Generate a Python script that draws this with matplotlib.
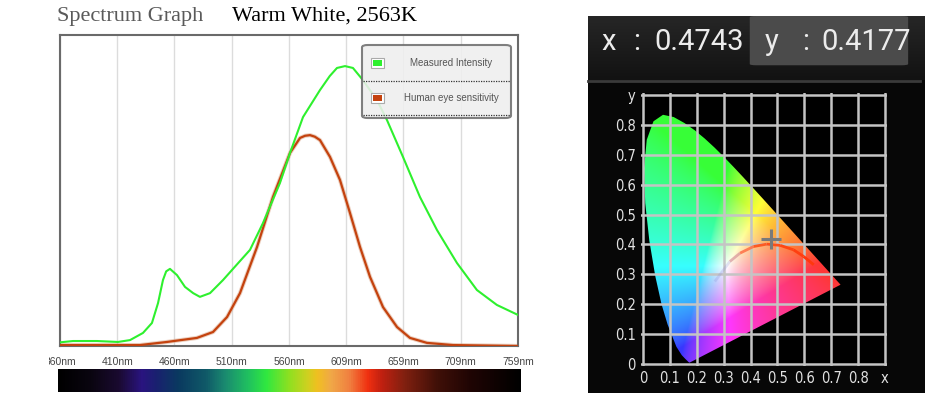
import numpy as np
import matplotlib
matplotlib.use("Agg")
import matplotlib.pyplot as plt
from matplotlib.patches import Rectangle, FancyBboxPatch, Polygon
from matplotlib.lines import Line2D
from matplotlib.collections import LineCollection
from matplotlib.colors import LinearSegmentedColormap
from matplotlib.transforms import Bbox

W, H = 951, 399

# spectrum graph data (wavelength nm, relative level)
green_wl = [360.6, 371.3, 392.2, 410.5, 421.0, 432.3, 440.1, 445.4, 449.7, 452.5, 455.8,
            461.9, 468.9, 476.0, 481.9, 490.7, 502.0, 510.7, 525.5, 536.8, 551.6, 560.4,
            571.7, 586.5, 595.0, 601.3, 608.3, 615.2, 623.9, 636.1, 644.8, 658.8, 673.6,
            688.4, 705.8, 723.2, 740.6, 758.9]
green_val = [0.012, 0.016, 0.016, 0.013, 0.019, 0.042, 0.074, 0.138, 0.212, 0.240, 0.248,
             0.228, 0.190, 0.170, 0.158, 0.170, 0.212, 0.248, 0.309, 0.395, 0.524, 0.621,
             0.736, 0.823, 0.868, 0.894, 0.900, 0.894, 0.855, 0.791, 0.727, 0.608, 0.479,
             0.373, 0.267, 0.180, 0.132, 0.100]

eye_wl = [360.0, 429.7, 453.2, 479.3, 493.3, 505.5, 516.8, 531.6, 545.5, 560.4, 569.1,
          573.5, 577.8, 582.0, 586.5, 595.2, 603.9, 612.6, 621.4, 630.1, 641.4, 653.6,
          664.9, 679.7, 702.4, 758.9]
eye_val = [0.003, 0.003, 0.013, 0.026, 0.045, 0.093, 0.170, 0.318, 0.479, 0.621, 0.669,
           0.676, 0.678, 0.673, 0.662, 0.608, 0.534, 0.428, 0.318, 0.222, 0.125, 0.061,
           0.026, 0.010, 0.003, 0.0]

wl_ticks = np.linspace(360, 759, 9)
legend_labels = ["Measured Intensity", "Human eye sensitivity"]
green_col = "#2ef02e"
eye_col = "#c4420e"

title_left = "Spectrum Graph"
title_right = "Warm White, 2563K"

bar_stops = [0.0, 0.07, 0.13, 0.18, 0.21, 0.26, 0.32, 0.36, 0.41, 0.45, 0.50, 0.54,
             0.56, 0.59, 0.63, 0.67, 0.70, 0.75, 0.82, 0.89, 1.0]
bar_colors = ["#000000", "#0a0510", "#1a0a30", "#2a1480", "#1a2070", "#0a3a60", "#105a68",
              "#1a8a70", "#20c060", "#30e840", "#90e020", "#d0d020", "#f0c020", "#f0a848",
              "#f08040", "#f03010", "#c02010", "#802010", "#401008", "#200504", "#000000"]

# chromaticity data
locus_x = [0.1741, 0.1738, 0.1733, 0.1726, 0.1714, 0.1689, 0.1644, 0.1566, 0.1440, 0.1241,
           0.0913, 0.0687, 0.0454, 0.0235, 0.0082, 0.0039, 0.0139, 0.0389, 0.0743, 0.1142,
           0.1547, 0.1929, 0.2296, 0.2658, 0.3016, 0.3373, 0.3731, 0.4087, 0.4441, 0.4788,
           0.5125, 0.5448, 0.5752, 0.6029, 0.6270, 0.6482, 0.6658, 0.6801, 0.6915, 0.7006,
           0.7079, 0.7140, 0.7190, 0.7260, 0.7300, 0.7347]
locus_y = [0.0050, 0.0049, 0.0048, 0.0048, 0.0051, 0.0069, 0.0109, 0.0177, 0.0297, 0.0578,
           0.1327, 0.2007, 0.2950, 0.4127, 0.5384, 0.6548, 0.7502, 0.8120, 0.8338, 0.8262,
           0.8059, 0.7816, 0.7543, 0.7243, 0.6923, 0.6589, 0.6245, 0.5896, 0.5547, 0.5202,
           0.4866, 0.4544, 0.4242, 0.3965, 0.3725, 0.3514, 0.3340, 0.3197, 0.3083, 0.2993,
           0.2920, 0.2859, 0.2809, 0.2740, 0.2700, 0.2653]
planck_x = [0.267, 0.323, 0.361, 0.411, 0.460, 0.510, 0.560, 0.597, 0.635]
planck_y = [0.276, 0.343, 0.371, 0.393, 0.401, 0.397, 0.382, 0.360, 0.332]
point_x, point_y = 0.4743, 0.4177
cie_ticks = np.round(np.arange(0, 0.91, 0.1), 1)


def fx(x):
    return x / W


def fy(y):
    return 1 - y / H


fig = plt.figure(figsize=(W / 100, H / 100), dpi=100)
fig.patch.set_facecolor("white")

# ---- titles
fig.text(fx(57), fy(21), title_left, family="Liberation Serif", fontsize=16,
         color="#5a5a5a", va="baseline")
fig.text(fx(232), fy(21), title_right, family="Liberation Serif", fontsize=16,
         color="black", va="baseline")

# ---- spectrum graph
ax = fig.add_axes([fx(60), 53 / H, 458 / W, 311 / H])
ax.plot(eye_wl, eye_val, color="#d9a080", lw=3.0, alpha=0.5, zorder=2)
ax.plot(eye_wl, eye_val, color=eye_col, lw=1.6, zorder=3)
ax.plot(green_wl, green_val, color=green_col, lw=1.5, zorder=4)
ax.set_xlim(360, 759)
ax.set_ylim(0, 1)
ax.set_yticks([])
ax.set_xticks(wl_ticks)
ax.set_xticklabels([f"{round(t)}nm" for t in wl_ticks], family="Liberation Sans",
                   fontsize=7.5, color="#444444")
ax.tick_params(axis="x", length=0, pad=8)
ax.grid(axis="x", color="#dcdcdc", lw=1)
for s in ax.spines.values():
    s.set_color("#6a6a6a")
    s.set_linewidth(1.5)
first = ax.xaxis.get_major_ticks()[0].label1
first.set_clip_box(Bbox([[49, 0], [W, H]]))
first.set_clip_on(True)

# legend box
leg_box = FancyBboxPatch((fx(362), fy(118)), fx(511) - fx(362), fy(45) - fy(118),
                         boxstyle="round,pad=0,rounding_size=0.006",
                         transform=fig.transFigure, facecolor="#efefef", alpha=0.88,
                         edgecolor="#6e6e6e", lw=1.5, zorder=10)
fig.add_artist(leg_box)
for yy in (81, 115):
    fig.add_artist(Line2D([fx(363), fx(510)], [fy(yy), fy(yy)], color="#333333",
                          lw=0.9, ls=(0, (1, 1)), transform=fig.transFigure, zorder=11))
for yy, col, lab in zip((63, 98), (green_col, eye_col), legend_labels):
    fig.add_artist(Rectangle((fx(371), fy(yy + 5)), 13 / W, 10 / H, facecolor="white",
                             edgecolor="#aaaaaa", lw=0.8, transform=fig.transFigure,
                             zorder=11))
    fig.add_artist(Rectangle((fx(373), fy(yy + 3)), 9 / W, 6 / H, facecolor=col,
                             edgecolor="none", transform=fig.transFigure, zorder=12))
    fig.text(fx(451), fy(yy), lab, family="Liberation Sans", fontsize=7, color="#555555",
             ha="center", va="center", zorder=12)

# wavelength colour bar
bar_cmap = LinearSegmentedColormap.from_list("spec", list(zip(bar_stops, bar_colors)))
axb = fig.add_axes([fx(58), 7 / H, 463 / W, 23 / H])
axb.imshow(np.linspace(0, 1, 512)[None, :], cmap=bar_cmap, aspect="auto")
axb.set_axis_off()

# ---- right panel
fig.add_artist(Rectangle((fx(588), fy(393)), 337 / W, 377 / H, facecolor="#070707",
                         edgecolor="none", transform=fig.transFigure, zorder=0))
axt = fig.add_axes([fx(588), fy(80), 337 / W, 64 / H], zorder=1)
top_grad = LinearSegmentedColormap.from_list("top", ["#262626", "#121212"])
axt.imshow(np.linspace(0, 1, 64)[:, None], cmap=top_grad, aspect="auto")
axt.set_axis_off()
axt.add_patch(FancyBboxPatch((0.48, 0.23), 0.47, 0.77, boxstyle="round,pad=0,rounding_size=0.02",
                             transform=axt.transAxes, facecolor="#4b4b4b", edgecolor="none"))
txt = dict(family="Roboto", fontsize=21, color="#ececec", va="center",
           weight="normal", transform=fig.transFigure)
fig.text(fx(609), fy(42), "x", ha="center", **txt)
fig.text(fx(637), fy(42), ":", ha="center", **txt)
fig.text(fx(654), fy(42), f"{point_x:.4f}", ha="left", **txt)
fig.text(fx(772), fy(42), "y", ha="center", **txt)
fig.text(fx(806), fy(42), ":", ha="center", **txt)
fig.text(fx(821), fy(42), f"{point_y:.4f}", ha="left", **txt)
fig.add_artist(Line2D([fx(588), fx(920)], [fy(81), fy(81)], color="#3a3a3a", lw=2,
                      transform=fig.transFigure, zorder=2))

# chromaticity diagram
axc = fig.add_axes([fx(641.4), 33.2 / H, 245.2 / W, 272.6 / H], zorder=2)
axc.set_facecolor("black")
gx, gy = np.meshgrid(np.linspace(0.0, 0.75, 400), np.linspace(0.001, 0.85, 400))
with np.errstate(divide="ignore", invalid="ignore"):
    X = gx / gy
    Z = (1 - gx - gy) / gy
    Y = np.ones_like(X)
    r = 3.2406 * X - 1.5372 * Y - 0.4986 * Z
    g = -0.9689 * X + 1.8758 * Y + 0.0415 * Z
    b = 0.0557 * X - 0.2040 * Y + 1.0570 * Z
    rgb = np.clip(np.dstack([r, g, b]), 0, None)
    rgb = rgb / rgb.max(axis=2, keepdims=True)
rgb = np.nan_to_num(rgb)
rgb = (rgb + 0.04) / 1.04
rgb = np.where(rgb <= 0.0031308, 12.92 * rgb, 1.055 * rgb ** (1 / 2.4) - 0.055)
rgb = np.clip(rgb, 0, 1)
im = axc.imshow(rgb, origin="lower", extent=(0, 0.75, 0.001, 0.85), aspect="auto",
                interpolation="bilinear", zorder=0)
horse = Polygon(np.column_stack([locus_x, locus_y]), closed=True, transform=axc.transData,
                facecolor="none", edgecolor="none")
axc.add_patch(horse)
im.set_clip_path(horse)

pts = np.column_stack([planck_x, planck_y])
segs = np.stack([pts[:-1], pts[1:]], axis=1)
planck_cmap = LinearSegmentedColormap.from_list(
    "pl", [(0.0, (0.55, 0.55, 0.85, 0.25)), (0.25, (1.0, 0.45, 0.3, 0.8)),
           (0.45, (1.0, 0.33, 0.1, 1.0)), (1.0, (1.0, 0.22, 0.05, 1.0))])
axc.add_collection(LineCollection(segs, colors=planck_cmap(np.linspace(0, 1, len(segs))),
                                  lw=2, zorder=3))
axc.plot([point_x], [point_y], marker="+", ms=14, mew=2.2, color="#7a7a7a", zorder=4)

axc.set_xlim(-0.006, 0.906)
axc.set_ylim(-0.006, 0.906)
axc.set_xticks(cie_ticks)
axc.set_yticks(cie_ticks)
axc.set_xticklabels([f"{t:g}" for t in cie_ticks[:-1]] + ["x"])
axc.set_yticklabels([f"{t:g}" for t in cie_ticks[:-1]] + ["y"])
axc.tick_params(length=0, labelsize=10.5, labelcolor="#e2e2e2", pad=4)
for lab in axc.get_xticklabels() + axc.get_yticklabels():
    lab.set_fontstretch("condensed")
axc.grid(True, color="#c4c4c4", lw=1.8)
axc.set_axisbelow(False)
for s in axc.spines.values():
    s.set_visible(False)

fig.savefig("out.png", dpi=100, facecolor="white")
